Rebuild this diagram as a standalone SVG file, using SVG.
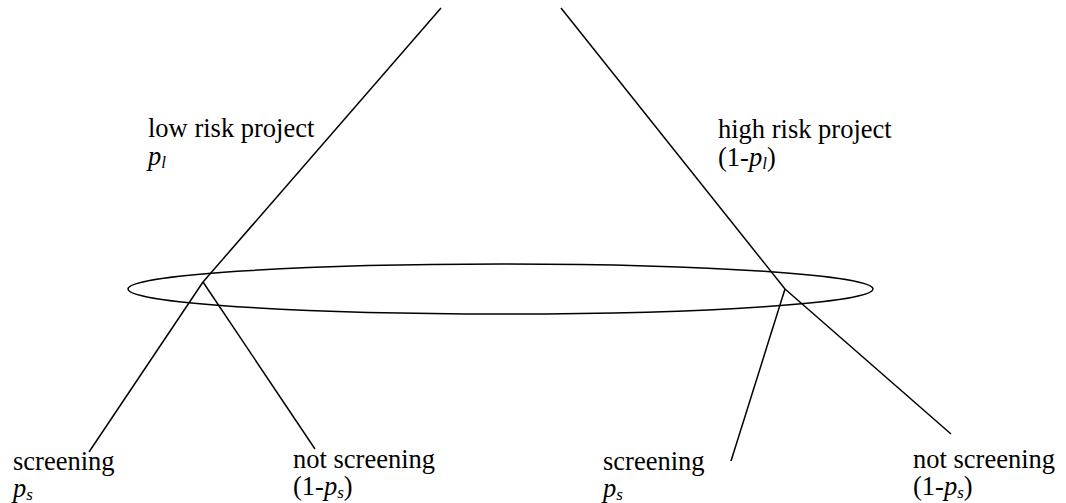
<svg xmlns="http://www.w3.org/2000/svg" width="1066" height="503" viewBox="0 0 1066 503">
<style>
.l{stroke:#000;stroke-width:1.5;fill:none}
text{font-family:'Liberation Serif','Times New Roman',Times,serif;font-size:26.5px;fill:#000}
.i{font-style:italic}
</style>
<rect width="1066" height="503" fill="#fff"/>
<g id="connectors">
<line class="l" x1="441" y1="8" x2="203" y2="282"/>
<line class="l" x1="203" y1="282" x2="89" y2="452"/>
<line class="l" x1="203" y1="282" x2="315" y2="449"/>
<line class="l" x1="561" y1="8" x2="785" y2="289"/>
<line class="l" x1="785" y1="289" x2="731" y2="461"/>
<line class="l" x1="785" y1="289" x2="951" y2="434"/>
</g>
<g id="ellipse"><ellipse class="l" cx="500.5" cy="289" rx="372.5" ry="25"/></g>
<g id="low"><text x="148" y="137">low risk project</text><text x="148" y="165" class="i">p<tspan font-size="17" dy="3">l</tspan></text></g>
<g id="high"><text x="718" y="138">high risk project</text><text x="718" y="166">(1-<tspan class="i">p</tspan><tspan class="i" font-size="17" dy="3">l</tspan><tspan dy="-3">)</tspan></text></g>
<g id="s1"><text x="13" y="470">screening</text><text x="13" y="497" class="i">p<tspan font-size="17" dy="3">s</tspan></text></g>
<g id="ns1"><text x="293" y="468">not screening</text><text x="293" y="495">(1-<tspan class="i">p</tspan><tspan class="i" font-size="17" dy="3">s</tspan><tspan dy="-3">)</tspan></text></g>
<g id="s2"><text x="603" y="470">screening</text><text x="603" y="497" class="i">p<tspan font-size="17" dy="3">s</tspan></text></g>
<g id="ns2"><text x="913" y="468">not screening</text><text x="913" y="495">(1-<tspan class="i">p</tspan><tspan class="i" font-size="17" dy="3">s</tspan><tspan dy="-3">)</tspan></text></g>
</svg>
